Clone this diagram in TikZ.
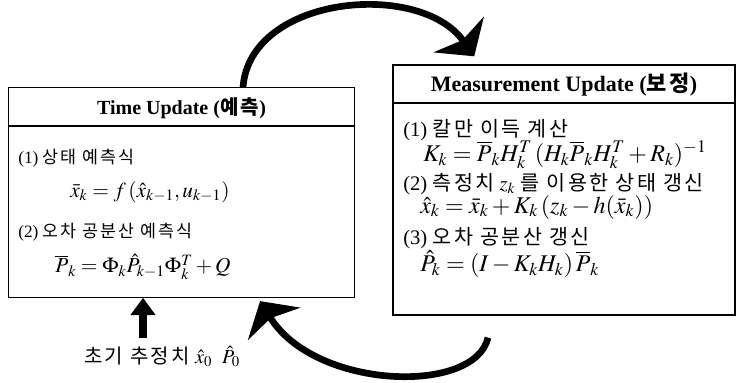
\documentclass[tikz,border=0pt]{standalone}
\usepackage{mathptmx}
\usepackage{fontspec}
\setmainfont{Liberation Serif}
\newfontfamily\kr[LetterSpace=12]{Noto Sans CJK KR}
\usetikzlibrary{arrows.meta}

\begin{document}
\begin{tikzpicture}[
  x=0.75pt, y=-0.75pt,
  panel/.style={draw, line width=0.8pt, rectangle, inner sep=0pt},
  head/.style={font=\fontsize{15}{17}\selectfont\bfseries},
  item/.style={anchor=west, inner sep=0pt, font=\fontsize{13}{15}\selectfont},
  bigitem/.style={item, font=\fontsize{15.5}{17}\selectfont},
  eq/.style={anchor=west, inner sep=0pt, font=\fontsize{16}{18}\selectfont},
  bigeq/.style={eq, font=\fontsize{18}{20}\selectfont},
  bigarr/.style={line width=5pt, -{Stealth[length=20pt, width=46pt, inset=5pt]}},
  uparr/.style={line width=6pt, -{Triangle[length=13pt, width=18pt]}}
]
\useasboundingbox (0,0) rectangle (737,382);

% Boxes
\node[panel, minimum width=260pt, minimum height=157pt] (tu) at (181.5,192.5) {};
\node[panel, minimum width=256.5pt, minimum height=187.5pt] (mu) at (564,190) {};

% Header separators
\draw[line width=0.8pt] (tu.west |- 0,126) -- (tu.east |- 0,126);
\draw[line width=0.8pt] (mu.west |- 0,103) -- (mu.east |- 0,103);

% Headers
\node[head] (tuhead) at (181.5,108) {Time Update ({\kr 예측})};
\node[head, font=\fontsize{16.5}{18}\selectfont\bfseries] (muhead) at (564,85) {Measurement Update ({\kr 보정})};

% Time update contents
\node[item] (tu1) at (18,158) {(1) {\kr 상태 예측식}};
\node[eq] (tueq1) at (70,192) {$\bar{x}_k = f\,(\hat{x}_{k-1}, u_{k-1})$};
\node[item] (tu2) at (18,232) {(2) {\kr 오차 공분산 예측식}};
\node[eq] (tueq2) at (55,267) {$\overline{P}_k = \Phi_k \hat{P}_{k-1} \Phi_k^T + Q$};

% Measurement update contents
\node[bigitem] (mu1) at (403,130) {(1) {\kr 칼만 이득 계산}};
\node[bigeq] (mueq1) at (423,155) {$K_k = \overline{P}_k H_k^T\, (H_k \overline{P}_k H_k^T + R_k)^{-1}$};
\node[bigitem] (mu2) at (403,184) {(2) {\kr 측정치} $z_k$ {\kr 를 이용한 상태 갱신}};
\node[bigeq] (mueq2) at (420,207) {$\hat{x}_k = \bar{x}_k + K_k\,(z_k - h(\bar{x}_k))$};
\node[bigitem] (mu3) at (403,238) {(3) {\kr 오차 공분산 갱신}};
\node[bigeq] (mueq3) at (420,264) {$\hat{P}_k = (I - K_k H_k)\,\overline{P}_k$};

% Initial estimate
\node[font=\fontsize{15}{17}\selectfont] (init) at (162,356) {{\kr 초기 추정치} $\hat{x}_0\ \ \hat{P}_0$};
\coordinate (upfoot) at (143,338);

% Arrows
\draw[uparr] (upfoot) -- (upfoot |- tu.south);
\draw[bigarr, shorten >=7.5pt] (tu.north -| 243,0) .. controls (250,-5) and (420,-20) .. (mu.north -| 480,0);
\draw[bigarr, shorten <=17pt, shorten >=3pt] (mu.south -| 493,0) .. controls (475,395) and (315,390) .. (tu.south -| 258,0);

\end{tikzpicture}
\end{document}
